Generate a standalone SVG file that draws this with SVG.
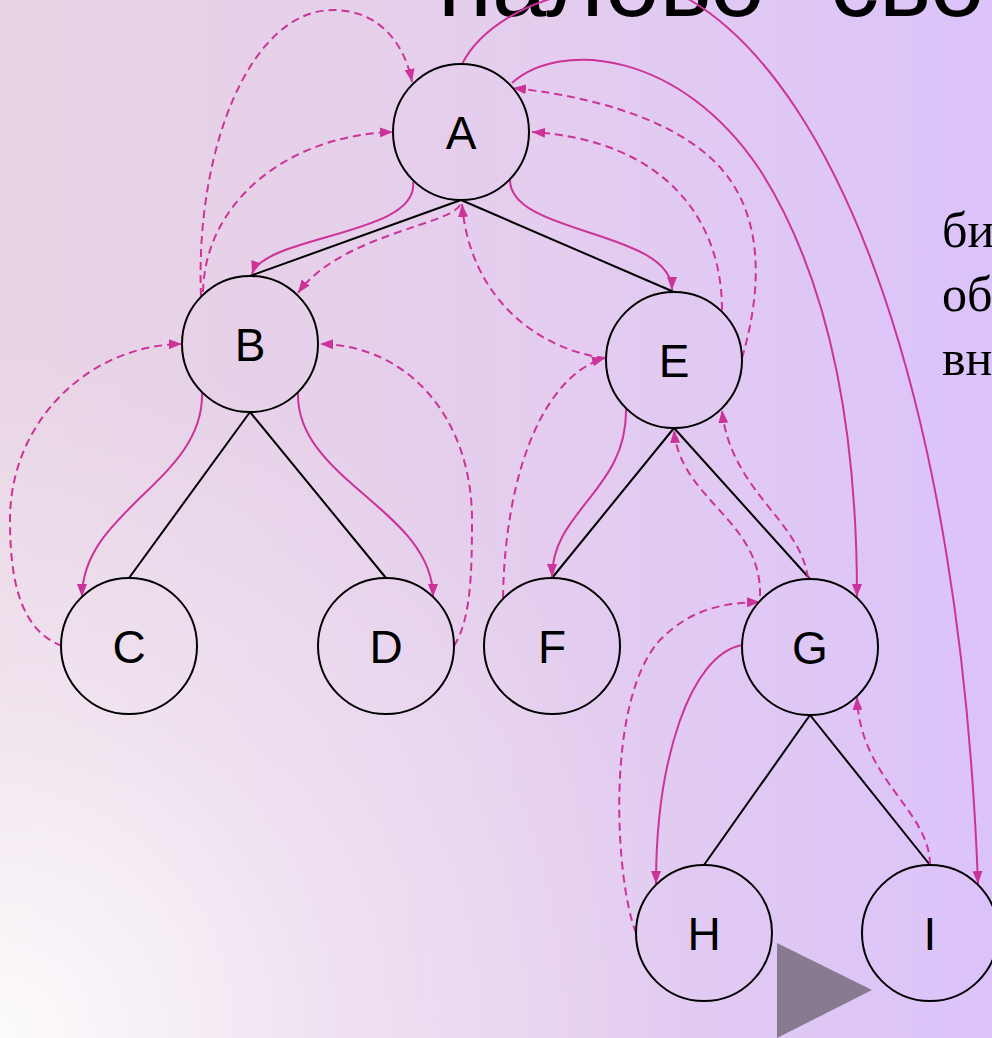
<svg xmlns="http://www.w3.org/2000/svg" width="992" height="1038" viewBox="0 0 992 1038">
<defs>
<linearGradient id="bg" x1="0" y1="0" x2="1" y2="0">
<stop offset="0" stop-color="#e8d4e4"/>
<stop offset="0.55" stop-color="#e4cdee"/>
<stop offset="1" stop-color="#dbc3fa"/>
</linearGradient>
<radialGradient id="glow" cx="0" cy="1038" r="700" gradientUnits="userSpaceOnUse">
<stop offset="0" stop-color="#ffffff" stop-opacity="0.9"/>
<stop offset="0.5" stop-color="#ffffff" stop-opacity="0.35"/>
<stop offset="1" stop-color="#ffffff" stop-opacity="0"/>
</radialGradient>
<marker id="ah" viewBox="0 0 13 10" refX="13" refY="5" markerWidth="13" markerHeight="10" markerUnits="userSpaceOnUse" orient="auto">
<path d="M0,0 L13,5 L0,10 z" fill="#cc3399"/>
</marker>
<style>
.node circle { fill: none; stroke: #000; stroke-width: 2; }
.node text { font-family: "Liberation Sans", Arial, sans-serif; font-size: 46px; text-anchor: middle; fill: #000; }
.edge { stroke: #000; stroke-width: 2; fill: none; }
.th { stroke: #cc3399; stroke-width: 2; fill: none; marker-end: url(#ah); }
.dash { stroke-dasharray: 8 5; }
.title { font-family: "Liberation Sans", Arial, sans-serif; font-size: 98px; fill: #000; }
.side { font-family: "Liberation Serif", "Times New Roman", serif; font-size: 50px; fill: #000; }
</style>
</defs>
<rect x="0" y="0" width="992" height="1038" fill="url(#bg)"/>
<rect x="0" y="0" width="992" height="1038" fill="url(#glow)"/>

<text class="title" x="438" y="16">налово</text>
<text class="title" x="830" y="16">сво</text>

<text class="side" x="942" y="247">би</text>
<text class="side" x="942" y="311">об</text>
<text class="side" x="942" y="375">вн</text>

<g id="connectors">
<g id="tree-edges">
<line class="edge" x1="461" y1="200" x2="250" y2="276"/>
<line class="edge" x1="461" y1="200" x2="674" y2="292"/>
<line class="edge" x1="250" y1="412" x2="129" y2="578"/>
<line class="edge" x1="250" y1="412" x2="386" y2="578"/>
<line class="edge" x1="674" y1="428" x2="552" y2="578"/>
<line class="edge" x1="674" y1="428" x2="810" y2="579"/>
<line class="edge" x1="810" y1="715" x2="704" y2="865"/>
<line class="edge" x1="810" y1="715" x2="930" y2="865"/>
</g>
<g id="solid-threads">
<path class="th" d="M413,182 C420,235 265,235 252,274"/>
<path class="th" d="M510,180 C510,235 672,230 672,290"/>
<path class="th" d="M512,83 C560,40 680,50 760,170 C830,280 857,430 857,597"/>
<path class="th" d="M462,64 C500,-10 640,-30 690,0 C840,90 960,400 978,884"/>
<path class="th" d="M202,392 C205,480 82,510 82,597"/>
<path class="th" d="M298,392 C295,480 433,510 433,597"/>
<path class="th" d="M626,408 C628,490 552,510 552,577"/>
<path class="th" d="M742,645 C690,655 656,760 656,884"/>
</g>
<g id="dashed-threads">
<path class="th dash" d="M62,646 C20,630 10,580 10,520 C10,420 90,345 182,344"/>
<path class="th dash" d="M454,646 C470,620 472,580 472,520 C472,420 410,345 320,344"/>
<path class="th dash" d="M203,292 C205,200 290,135 393,132"/>
<path class="th dash" d="M201,296 C195,150 250,10 333,10 C380,10 405,45 412,82"/>
<path class="th dash" d="M460,205 C450,225 340,235 298,293"/>
<path class="th dash" d="M605,358 C540,350 470,300 462,204"/>
<path class="th dash" d="M742,358 C762,290 765,215 718,165 C670,115 580,95 513,88"/>
<path class="th dash" d="M722,310 C722,215 660,140 532,132"/>
<path class="th dash" d="M503,598 C505,470 545,375 605,358"/>
<path class="th dash" d="M808,578 C800,520 730,490 722,410"/>
<path class="th dash" d="M760,596 C762,520 680,500 674,430"/>
<path class="th dash" d="M636,933 C615,880 605,700 660,640 C690,610 720,603 760,602"/>
<path class="th dash" d="M930,865 C930,810 860,780 857,697"/>
</g>
</g>

<g id="node-A" class="node"><circle cx="461" cy="132" r="68"/><text x="461" y="149">A</text></g>
<g id="node-B" class="node"><circle cx="250" cy="344" r="68"/><text x="250" y="361">B</text></g>
<g id="node-C" class="node"><circle cx="129" cy="646" r="68"/><text x="129" y="663">C</text></g>
<g id="node-D" class="node"><circle cx="386" cy="646" r="68"/><text x="386" y="663">D</text></g>
<g id="node-E" class="node"><circle cx="674" cy="360" r="68"/><text x="674" y="377">E</text></g>
<g id="node-F" class="node"><circle cx="552" cy="646" r="68"/><text x="552" y="663">F</text></g>
<g id="node-G" class="node"><circle cx="810" cy="647" r="68"/><text x="810" y="664">G</text></g>
<g id="node-H" class="node"><circle cx="704" cy="933" r="68"/><text x="704" y="950">H</text></g>
<g id="node-I" class="node"><circle cx="930" cy="933" r="68"/><text x="930" y="950">I</text></g>

<polygon points="777,943 872,990 777,1038" fill="#877b91"/>
</svg>
